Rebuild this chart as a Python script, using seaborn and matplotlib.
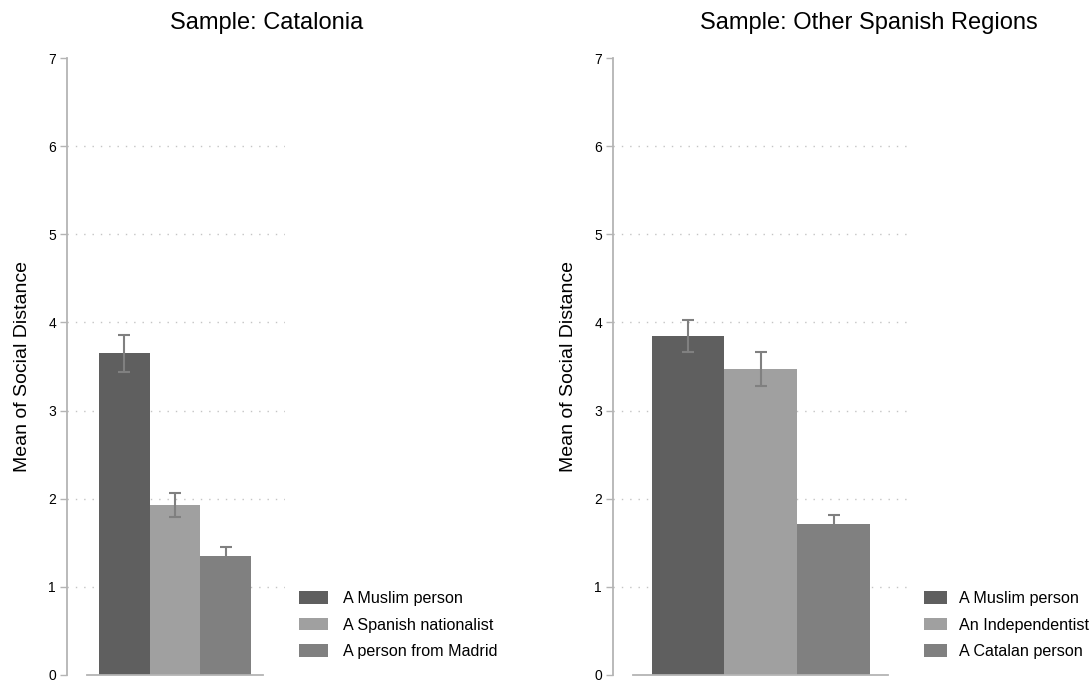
import pandas as pd
import matplotlib.pyplot as plt
import seaborn as sns
from matplotlib.patches import Patch

sns.set_theme(style='white')
plt.rcParams['font.family'] = ['Liberation Sans', 'DejaVu Sans']
plt.rcParams['text.color'] = 'black'
plt.rcParams['axes.labelcolor'] = 'black'
plt.rcParams['ytick.labelcolor'] = 'black'

# Catalonia sample
cat_groups = ['A Muslim person', 'A Spanish nationalist', 'A person from Madrid']
cat_means = [3.65, 1.93, 1.35]
cat_err = [0.21, 0.14, 0.10]

# other Spanish regions sample
oth_groups = ['A Muslim person', 'An Independentist', 'A Catalan person']
oth_means = [3.85, 3.47, 1.71]
oth_err = [0.18, 0.19, 0.10]

bar_colors = ['#5f5f5f', '#a0a0a0', '#808080']
axis_grey = '#b4b4b4'

fig = plt.figure(figsize=(10.91, 6.83), dpi=100)
W, H = 1091, 683

panels = [
    # title, groups, means, err, axes px (x0, x1), xlim, spine bounds, legend px, title x, handle len, text pad
    ('Sample: Catalonia', cat_groups, cat_means, cat_err,
     (67, 285), (-1.131, 3.171), (-0.737, 2.737), (299, 591), 267, 1.8, 0.95),
    ('Sample: Other Spanish Regions', oth_groups, oth_means, oth_err,
     (613, 910), (-1.032, 3.049), (-0.757, 2.747), (924, 591), 869, 1.45, 0.7),
]

for title, groups, means, err, (x0, x1), xlim, sb, (lx, ly), tx, hl, tp in panels:
    ax = fig.add_axes([x0 / W, 1 - 675 / H, (x1 - x0) / W, 617 / H])
    df = pd.DataFrame({'group': groups, 'mean': means})
    sns.barplot(data=df, x='group', y='mean', hue='group', order=groups,
                palette=bar_colors, width=1.0, errorbar=None, legend=False,
                saturation=1, linewidth=0, edgecolor='none', ax=ax, zorder=2)
    ax.errorbar(range(len(groups)), means, yerr=err, fmt='none',
                ecolor='#808080', elinewidth=1.5, capsize=4, capthick=1.5, zorder=3)

    ax.set_xlim(*xlim)
    ax.set_ylim(0, 7)
    ax.set_yticks(range(0, 8))
    ax.set_xticks([])
    ax.set_xlabel('')
    ax.set_ylabel('Mean of Social Distance', fontsize=14, labelpad=12)

    for v in range(1, 7):
        ax.axhline(v, color='#c4c4c4', lw=1, ls=(0, (1, 5)), zorder=1)

    for s in ['top', 'right']:
        ax.spines[s].set_visible(False)
    ax.spines['left'].set_color(axis_grey)
    ax.spines['left'].set_linewidth(1.3)
    ax.spines['bottom'].set_color(axis_grey)
    ax.spines['bottom'].set_linewidth(1.3)
    ax.spines['bottom'].set_bounds(*sb)
    ax.tick_params(axis='y', direction='out', length=5, width=1, color=axis_grey,
                   labelsize=10, pad=3, left=True)

    fig.text(tx / W, 1 - 23 / H, title, fontsize=17, ha='center', va='center')

    handles = [Patch(facecolor=c, edgecolor='none', label=g) for c, g in zip(bar_colors, groups)]
    fig.legend(handles=handles, loc='upper left', bbox_to_anchor=(lx / W, 1 - ly / H),
               frameon=False, fontsize=11.6, handlelength=hl, handleheight=0.8,
               handletextpad=tp, labelspacing=0.72, borderaxespad=0, borderpad=0)

fig.savefig('out.png', dpi=100)
